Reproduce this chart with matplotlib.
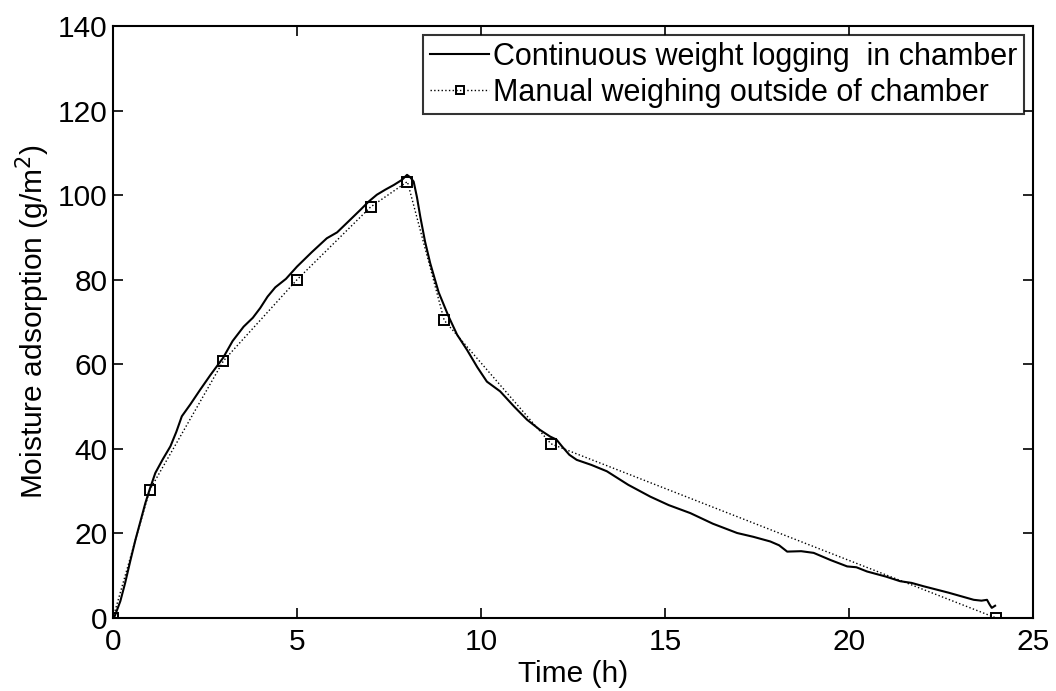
import matplotlib
matplotlib.use("Agg")
import matplotlib.pyplot as plt

# Continuous weight logging (traced)
cont_t = [0.0, 0.05, 0.2, 0.33, 0.47, 0.61, 0.75, 0.88, 1.0, 1.15, 1.35, 1.56, 1.72, 1.87,
          2.1, 2.37, 2.65, 2.99, 3.25, 3.55, 3.8, 4.0, 4.2, 4.41, 4.7,
          5.0, 5.4, 5.81, 6.09, 6.4, 6.72, 6.95, 7.17, 7.4, 7.63, 7.85, 7.99, 8.08,
          8.17, 8.26, 8.35, 8.48, 8.62, 8.85, 9.12, 9.35, 9.62, 9.9, 10.16,
          10.52, 10.9, 11.25, 11.6, 11.88, 12.05, 12.2, 12.4, 12.6, 13.0, 13.42, 14.0,
          14.6, 15.1, 15.69, 16.3, 16.96, 17.4, 17.86, 18.1, 18.32,
          18.7, 19.04, 19.5, 19.95, 20.2, 20.49, 21.0, 21.39, 21.7, 22.03, 22.7, 23.39,
          23.6, 23.75, 23.82, 23.88, 23.97]
cont_y = [0.0, 0.5, 4.0, 8.3, 13.5, 18.5, 23.0, 27.2, 30.5, 34.3, 37.5, 40.6, 44.0, 47.7,
          50.5, 54.0, 57.5, 61.5, 65.5, 68.9, 71.0, 73.3, 76.0, 78.2, 80.2,
          83.1, 86.5, 89.8, 91.2, 93.8, 96.5, 98.5, 100.1, 101.3, 102.4, 103.6, 104.8, 104.2,
          103.2, 99.5, 94.9, 89.0, 83.9, 77.0, 71.3, 67.0, 63.4, 59.3, 55.9,
          53.6, 50.0, 46.9, 44.5, 42.9, 42.2, 40.6, 38.6, 37.4, 36.2, 34.7, 31.5,
          28.7, 26.7, 24.8, 22.3, 20.1, 19.2, 18.1, 17.2, 15.7,
          15.8, 15.4, 13.7, 12.2, 12.0, 11.0, 9.8, 8.7, 8.3, 7.5, 6.0, 4.3,
          4.1, 4.3, 3.2, 2.4, 2.9]

# Manual weighing outside chamber
man_t = [0, 1, 3, 5, 7, 8, 9, 11.9, 24]
man_y = [0, 30.3, 60.8, 80.0, 97.2, 103.2, 70.4, 41.2, 0]

x_ticks = [0, 5, 10, 15, 20, 25]
y_ticks = [0, 20, 40, 60, 80, 100, 120, 140]

plt.rcParams['font.family'] = ['Liberation Sans', 'DejaVu Sans']
FS = 21.5

fig = plt.figure(figsize=(10.56, 6.91), dpi=100)
ax = fig.add_axes([113/1056, 73/691, 920/1056, 592/691])

ax.plot(cont_t, cont_y, '-', color='black', lw=1.5,
        label='Continuous weight logging  in chamber')
ax.plot(man_t, man_y, ':', color='black', lw=1.0, marker='s', markersize=7.5,
        markerfacecolor='none', markeredgecolor='black', markeredgewidth=1.4,
        label='Manual weighing outside of chamber')

ax.set_xlim(0, 25)
ax.set_ylim(0, 140)
ax.set_xticks(x_ticks)
ax.set_yticks(y_ticks)
ax.tick_params(direction='in', length=7, width=1.2, top=True, right=True,
               labelsize=FS)
ax.tick_params(axis='x', pad=7)
ax.tick_params(axis='y', pad=4)
for s in ax.spines.values():
    s.set_linewidth(1.5)

ax.set_xlabel('Time (h)', fontsize=FS, labelpad=3)
ax.set_ylabel('Moisture adsorption (g/m$^2$)', fontsize=FS, labelpad=4)

leg = ax.legend(loc='upper right', fontsize=22, frameon=True, fancybox=False,
                edgecolor='black', borderpad=0.22, handlelength=1.95,
                handletextpad=0.12, labelspacing=0.2, borderaxespad=0.0,
                markerscale=0.75, bbox_to_anchor=(0.9905, 0.985))
leg.get_frame().set_linewidth(1.5)

fig.savefig('out.png', dpi=100)
